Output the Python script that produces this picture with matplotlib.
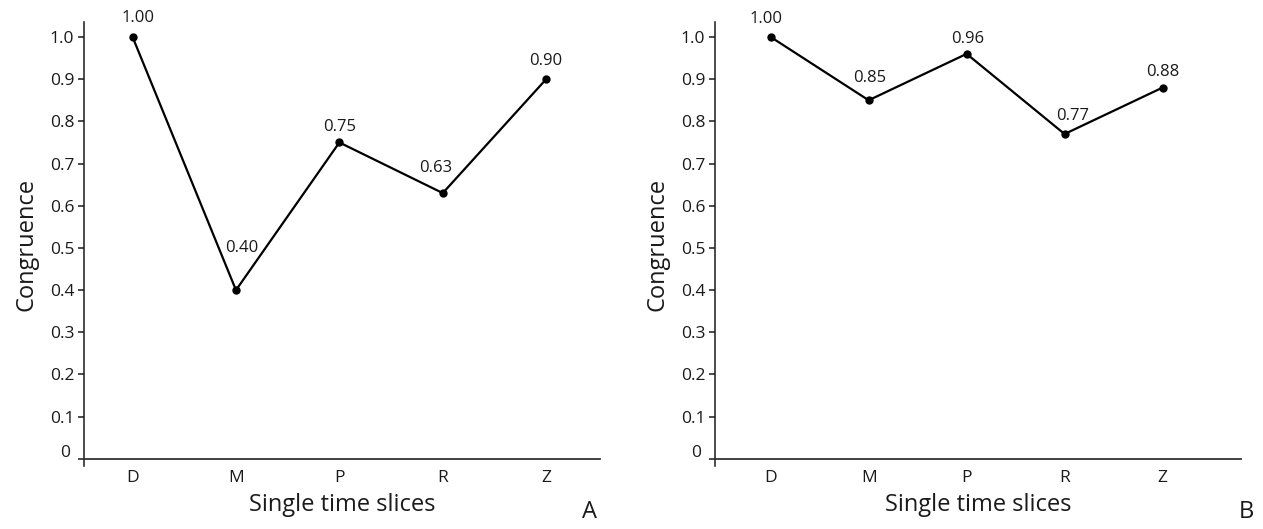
import matplotlib
matplotlib.use('Agg')
import matplotlib.pyplot as plt
import matplotlib.transforms as mtransforms

plt.rcParams['font.family'] = ['Open Sans', 'DejaVu Sans']

slices = ['D', 'M', 'P', 'R', 'Z']
congruence_a = [1.00, 0.40, 0.75, 0.63, 0.90]
congruence_b = [1.00, 0.85, 0.96, 0.77, 0.88]
yticks = [0, 0.1, 0.2, 0.3, 0.4, 0.5, 0.6, 0.7, 0.8, 0.9, 1.0]
ytick_labels = ['0', '0.1', '0.2', '0.3', '0.4', '0.5', '0.6', '0.7', '0.8', '0.9', '1.0']

# label offsets (points) for the value annotations
offsets_a = [(4, 14), (4, 30), (0, 11), (-5, 18), (0, 13)]
offsets_b = [(-3, 13), (1, 16), (1, 11), (6, 13), (0, 11)]

ink = '#1a1a1a'
fig = plt.figure(figsize=(12.63, 5.29), dpi=100)

panels = [
    (congruence_a, offsets_a, [0.0665, 0.119, 0.4085, 0.839], (-0.47, 4.52), 'A', 0.467),
    (congruence_b, offsets_b, [0.566, 0.119, 0.4165, 0.839], (-0.57, 4.8), 'B', 0.987),
]

for values, offs, rect, xlim, letter, letter_x in panels:
    ax = fig.add_axes(rect)
    x = list(range(len(slices)))
    ax.plot(x, values, color='black', lw=1.6, marker='o', markersize=5, zorder=3)
    for xi, v, (dx, dy) in zip(x, values, offs):
        ax.annotate(f'{v:.2f}', (xi, v), xytext=(dx, dy), textcoords='offset points',
                    ha='center', va='center', fontsize=12, color=ink)

    ax.set_xlim(*xlim)
    ax.set_ylim(-0.017, 1.035)
    ax.set_xticks(x)
    ax.set_xticklabels(slices)
    ax.set_yticks(yticks)
    ax.set_yticklabels(ytick_labels)
    ax.tick_params(axis='x', length=0, pad=8, labelsize=12.5, colors=ink)
    ax.tick_params(axis='y', length=4, width=1.1, pad=3, labelsize=12.5, colors=ink)

    for side in ['top', 'right']:
        ax.spines[side].set_visible(False)
    ax.spines['bottom'].set_position(('data', 0))
    ax.spines['bottom'].set_color('#333333')
    ax.spines['left'].set_color(ink)
    ax.spines['bottom'].set_linewidth(1.3)
    ax.spines['left'].set_linewidth(1.1)

    # the zero label sits a little above its tick
    zero_lab = ax.get_yticklabels()[0]
    zero_lab.set_transform(zero_lab.get_transform() +
                           mtransforms.ScaledTranslation(-3 / 72, 6 / 72, fig.dpi_scale_trans))

    ax.set_ylabel('Congruence', fontsize=17, color=ink, labelpad=8)
    ax.set_xlabel('Single time slices', fontsize=17, color=ink, labelpad=5)
    fig.text(letter_x, 0.033, letter, fontsize=17, color=ink, ha='center', va='center')

fig.savefig('out.png', dpi=100)
